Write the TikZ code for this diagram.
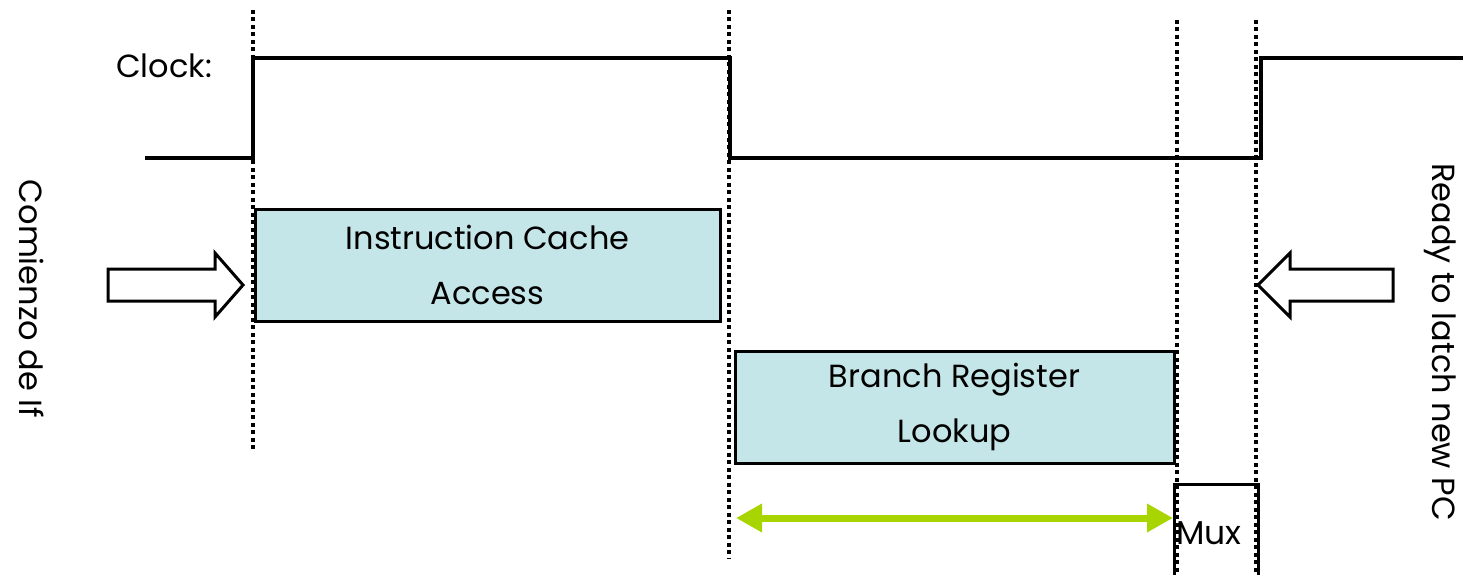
\documentclass[tikz,border=0pt]{standalone}
\usepackage{fontspec}
\setmainfont{Poppins}
\usetikzlibrary{arrows.meta}
\definecolor{boxfill}{HTML}{C5E6E8}
\definecolor{spanlime}{HTML}{A8D400}
\tikzset{
  wave/.style={line width=3.5pt, line join=miter},
  guide/.style={line width=4pt, dash pattern=on 4pt off 3.5pt},
  stage/.style={draw, line width=3pt, fill=boxfill, inner sep=0pt, align=center,
                font=\fontsize{32}{55}\selectfont},
  muxbox/.style={draw, line width=3pt, fill=white, inner sep=0pt},
  label/.style={font=\fontsize{32}{36}\selectfont, inner sep=0pt}
}
\tikzset{blockarrow/.style={draw, line width=3pt, fill=white, line join=miter}}
\begin{document}
\begin{tikzpicture}[x=1pt, y=-1pt]
\useasboundingbox (0,0) rectangle (1463,575);

% clock waveform
\draw[wave] (145,158) -- (253,158) -- (253,58) -- (730,58) -- (730,158)
  -- (1261,158) -- (1261,58) -- (1463,58);
\node[label, anchor=west] (clk) at (116,66) {Clock:};

% pipeline stages
\node[stage, minimum width=465pt, minimum height=112pt] (icache) at (487.5,265)
  {Instruction Cache\\Access};
\node[stage, minimum width=439pt, minimum height=112pt] (breg) at (954.5,407)
  {Branch Register\\Lookup};
\node[muxbox, minimum width=84pt, minimum height=100pt] (mux) at (1216,534) {};
\node[label, anchor=west, font=\fontsize{33}{36}\selectfont] (muxtxt) at (1176,533) {Mux};

% timing guides
\coordinate (g1t) at (253,10);  \coordinate (g1b) at (253,452);
\coordinate (g2t) at (729,10);  \coordinate (g2b) at (729,558);
\coordinate (g3t) at (1177,20); \coordinate (g3b) at (1177,575);
\coordinate (g4t) at (1256,20); \coordinate (g4b) at (1256,575);
\draw[guide] (g1t) -- (g1b);
\draw[guide] (g2t) -- (g2b);
\draw[guide] (g3t) -- (g3b);
\draw[guide] (g4t) -- (g4b);

% lookup span
\coordinate (spanL) at (736,518);
\coordinate (spanR) at (1173,518);
\draw[spanlime, line width=7pt,
  {Triangle[width=27pt,length=26pt]}-{Triangle[width=27pt,length=26pt]}]
  (spanL) -- (spanR);

% start / latch markers
\draw[blockarrow] (108,269) -- (215,269) -- (215,253) -- (243,285) -- (215,317)
  -- (215,301) -- (108,301) -- cycle;
\draw[blockarrow] (1393,269) -- (1290,269) -- (1290,253) -- (1258,285) -- (1290,317)
  -- (1290,301) -- (1393,301) -- cycle;

\node[label, rotate=-90] (start) at (32,299) {Comienzo de If};
\node[label, rotate=-90] (ready) at (1440,342) {Ready to latch new PC};
\end{tikzpicture}
\end{document}
